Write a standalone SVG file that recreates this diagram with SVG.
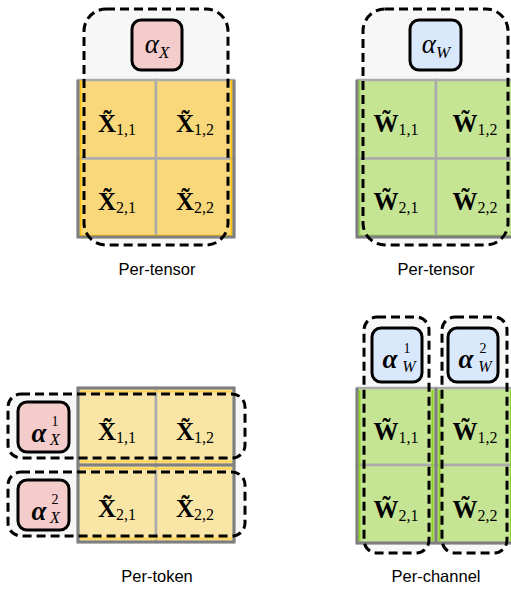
<svg xmlns="http://www.w3.org/2000/svg" width="511" height="590" viewBox="0 0 511 590">
<style>
.bg{fill:#f7f7f7;stroke:none}
.dash{fill:none;stroke:#000;stroke-width:3;stroke-dasharray:9 5}
.cx{fill:#f8d87a;stroke:#ababab;stroke-width:2.5}
.cxl{fill:#f9e6a6;stroke:#ababab;stroke-width:2.5}
.cw{fill:#c6e594;stroke:#ababab;stroke-width:2.5}
.edge{fill:none;stroke:#7f7f7f;stroke-width:3}
.ar{fill:#f4cccc;stroke:#000;stroke-width:3}
.ab{fill:#dae8fc;stroke:#000;stroke-width:3}
.m{font-family:"Liberation Serif","DejaVu Serif",serif;font-weight:bold;font-size:25px;fill:#000;text-anchor:middle}
.s{font-weight:normal;font-size:16px}
.a{font-family:"Liberation Serif","DejaVu Serif",serif;font-style:italic;font-size:27px;fill:#000;text-anchor:middle}
.as{font-size:17px}
.sup{font-family:"Liberation Serif","DejaVu Serif",serif;font-size:14px;fill:#000;text-anchor:middle}
.sub{font-family:"Liberation Serif","DejaVu Serif",serif;font-style:italic;font-size:16px;fill:#000;text-anchor:middle}
.lbl{font-family:"Liberation Sans",Arial,sans-serif;font-size:16.5px;fill:#000;text-anchor:middle}
</style>

<g id="tl">
<rect class="bg" x="84" y="9" width="144" height="236" rx="22"/>
<rect class="cx" x="78" y="80" width="78" height="78.5"/>
<rect class="cx" x="156" y="80" width="78" height="78.5"/>
<rect class="cx" x="78" y="158.5" width="78" height="78.5"/>
<rect class="cx" x="156" y="158.5" width="78" height="78.5"/>
<path d="M80.5 80 V235.5 H231.5 V80" fill="none" stroke="#ffc000" stroke-width="1.5"/>
<path d="M78 80 V237 H234 V80" class="edge"/>
<text class="m" x="117" y="132">X̃<tspan class="s" dy="3">1,1</tspan></text>
<text class="m" x="195" y="132">X̃<tspan class="s" dy="3">1,2</tspan></text>
<text class="m" x="117" y="210">X̃<tspan class="s" dy="3">2,1</tspan></text>
<text class="m" x="195" y="210">X̃<tspan class="s" dy="3">2,2</tspan></text>
<rect class="dash" x="84" y="9" width="144" height="236" rx="22"/>
<rect class="ar" x="132" y="20" width="50" height="50" rx="9"/>
<text class="a" x="157" y="53">α<tspan class="as" dy="5">X</tspan></text>
<text class="lbl" x="157" y="275">Per-tensor</text>
</g>

<g id="tr">
<rect class="bg" x="363" y="9" width="145" height="236" rx="22"/>
<rect class="cw" x="357" y="80" width="79" height="78.5"/>
<rect class="cw" x="436" y="80" width="79" height="78.5"/>
<rect class="cw" x="357" y="158.5" width="79" height="78.5"/>
<rect class="cw" x="436" y="158.5" width="79" height="78.5"/>
<path d="M359.5 80 V235.5 H511" fill="none" stroke="#92d050" stroke-width="1.5"/>
<path d="M357 80 V237 H515" class="edge"/>
<text class="m" x="396" y="132">W̃<tspan class="s" dy="3">1,1</tspan></text>
<text class="m" x="475" y="132">W̃<tspan class="s" dy="3">1,2</tspan></text>
<text class="m" x="396" y="210">W̃<tspan class="s" dy="3">2,1</tspan></text>
<text class="m" x="475" y="210">W̃<tspan class="s" dy="3">2,2</tspan></text>
<rect class="dash" x="363" y="9" width="145" height="236" rx="22"/>
<rect class="ab" x="410" y="20" width="51" height="50" rx="9"/>
<text class="a" x="436" y="53">α<tspan class="as" dy="5">W</tspan></text>
<text class="lbl" x="436" y="275">Per-tensor</text>
</g>

<g id="bl">
<rect class="bg" x="8" y="394" width="237" height="64" rx="13"/>
<rect class="bg" x="8" y="472" width="237" height="64" rx="13"/>
<rect class="cxl" x="78" y="388" width="78" height="77"/>
<rect class="cxl" x="156" y="388" width="78" height="77"/>
<rect class="cxl" x="78" y="465" width="78" height="77"/>
<rect class="cxl" x="156" y="465" width="78" height="77"/>
<path d="M80 391.5 H232 M80 461.5 H232 M80 468.5 H232 M80 538.5 H232" stroke="#ffd34d" stroke-width="2"/>
<path d="M78 388 H234 V542 H78 Z M78 465 H234" class="edge"/>
<text class="m" x="117" y="440">X̃<tspan class="s" dy="3">1,1</tspan></text>
<text class="m" x="195" y="440">X̃<tspan class="s" dy="3">1,2</tspan></text>
<text class="m" x="117" y="517">X̃<tspan class="s" dy="3">2,1</tspan></text>
<text class="m" x="195" y="517">X̃<tspan class="s" dy="3">2,2</tspan></text>
<rect class="dash" x="8" y="394" width="237" height="64" rx="13"/>
<rect class="dash" x="8" y="472" width="237" height="64" rx="13"/>
<rect class="ar" x="18" y="402" width="51" height="50" rx="9"/>
<text class="a" font-weight="bold" x="39" y="442">α</text>
<text class="sup" x="55" y="426">1</text>
<text class="sub" x="55" y="445">X</text>
<rect class="ar" x="18" y="480" width="51" height="50" rx="9"/>
<text class="a" font-weight="bold" x="39" y="520">α</text>
<text class="sup" x="55" y="504">2</text>
<text class="sub" x="55" y="523">X</text>
<text class="lbl" x="157" y="582">Per-token</text>
</g>

<g id="br">
<rect class="bg" x="364" y="317" width="65" height="236" rx="13"/>
<rect class="bg" x="442" y="317" width="65" height="236" rx="13"/>
<rect class="cw" x="357" y="388" width="79" height="77"/>
<rect class="cw" x="436" y="388" width="79" height="77"/>
<rect class="cw" x="357" y="465" width="79" height="78"/>
<rect class="cw" x="436" y="465" width="79" height="78"/>
<path d="M359.5 390 V541 M432.5 390 V541 M439.5 390 V541 M511 390 V541" stroke="#8ad320" stroke-width="2"/>
<path d="M357 388 V543 H515 M436 388 V543" class="edge"/>
<text class="m" x="396" y="440">W̃<tspan class="s" dy="3">1,1</tspan></text>
<text class="m" x="475" y="440">W̃<tspan class="s" dy="3">1,2</tspan></text>
<text class="m" x="396" y="518">W̃<tspan class="s" dy="3">2,1</tspan></text>
<text class="m" x="475" y="518">W̃<tspan class="s" dy="3">2,2</tspan></text>
<rect class="dash" x="364" y="317" width="65" height="236" rx="13"/>
<rect class="dash" x="442" y="317" width="65" height="236" rx="13"/>
<rect class="ab" x="372" y="328" width="50" height="54" rx="9"/>
<text class="a" font-weight="bold" x="390" y="368">α</text>
<text class="sup" x="407" y="353">1</text>
<text class="sub" x="409" y="372">W</text>
<rect class="ab" x="448" y="328" width="50" height="54" rx="9"/>
<text class="a" font-weight="bold" x="466" y="368">α</text>
<text class="sup" x="483" y="353">2</text>
<text class="sub" x="485" y="372">W</text>
<text class="lbl" x="436" y="582">Per-channel</text>
</g>
</svg>
